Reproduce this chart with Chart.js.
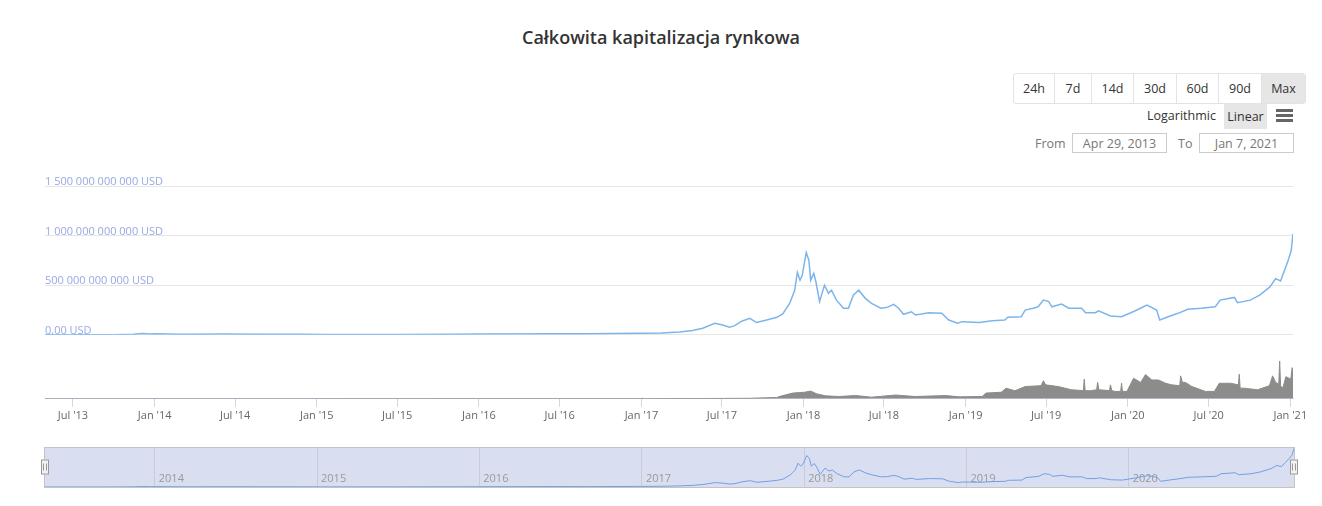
<!DOCTYPE html>
<html lang="pl">
<head>
  <meta charset="UTF-8">
  <title>Całkowita kapitalizacja rynkowa</title>
  <script src="https://cdn.jsdelivr.net/npm/chart.js"></script>
  <style>
    body { margin: 0; background: #fff; font-family: 'Open Sans', sans-serif; }
    #wrap { position: relative; width: 1322px; height: 506px; overflow: hidden; }
    #title { position: absolute; top: 25px; left: 0; width: 1322px; text-align: center;
      font-size: 18px; font-weight: 600; color: #333; }
    #ranges { position: absolute; left: 1013px; top: 73px; height: 29px; display: flex;
      border: 1px solid #e3e3e3; border-radius: 3px; overflow: hidden; }
    #ranges div { height: 29px; line-height: 29px; text-align: center; font-size: 12.5px; color: #333;
      border-left: 1px solid #e3e3e3; box-sizing: border-box; }
    #ranges div:first-child { border-left: none; }
    #ranges div.on { background: #e6e6e6; }
    .lbl { position: absolute; font-size: 12.5px; color: #333; }
    #linear { position: absolute; left: 1224px; top: 104px; width: 43px; height: 25px; line-height: 25px;
      background: #e6e6e6; text-align: center; font-size: 12.5px; color: #333; }
    .bar { position: absolute; left: 1276px; width: 17px; height: 3px; background: #666; }
    .gray { color: #777; }
    .box { position: absolute; height: 20px; line-height: 20px; border: 1px solid #ccc; text-align: center;
      font-size: 12.5px; color: #777; box-sizing: border-box; }
    canvas { position: absolute; left: 0; }
  </style>
</head>
<body>
<div id="wrap">
  <div id="title">Całkowita kapitalizacja rynkowa</div>
  <div id="ranges">
    <div style="width:40px">24h</div><div style="width:37px">7d</div><div style="width:42px">14d</div>
    <div style="width:43px">30d</div><div style="width:42px">60d</div><div style="width:43px">90d</div>
    <div style="width:44px" class="on">Max</div>
  </div>
  <div class="lbl" style="left:1147px; top:107px;">Logarithmic</div>
  <div id="linear">Linear</div>
  <div class="bar" style="top:109px"></div><div class="bar" style="top:114px"></div><div class="bar" style="top:119px"></div>
  <div class="lbl gray" style="left:1035px; top:135px;">From</div>
  <div class="box" style="left:1072px; top:133px; width:95px;">Apr 29, 2013</div>
  <div class="lbl gray" style="left:1178px; top:135px;">To</div>
  <div class="box" style="left:1199px; top:133px; width:95px;">Jan 7, 2021</div>
  <canvas id="main" width="1322" height="260" style="top:170px"></canvas>
  <canvas id="nav" width="1322" height="60" style="top:440px"></canvas>
</div>
<script>
// total market cap, billions USD
const capDates = ['2013-04-29','2013-07-01','2013-10-01','2013-11-15','2013-12-04','2013-12-20','2014-01-05',
  '2014-02-25','2014-04-01','2014-06-01','2014-09-01','2014-12-01','2015-01-15','2015-04-01','2015-07-01',
  '2015-11-05','2016-01-01','2016-06-18','2016-09-01','2016-12-31','2017-02-15','2017-03-28','2017-04-26',
  '2017-05-19','2017-06-15','2017-07-03','2017-07-18','2017-07-29','2017-08-16','2017-09-02','2017-09-17',
  '2017-10-10','2017-11-02','2017-11-15','2017-12-01','2017-12-12','2017-12-18','2017-12-24','2017-12-29',
  '2018-01-07','2018-01-13','2018-01-17','2018-01-24','2018-01-29','2018-02-06','2018-02-17','2018-02-26',
  '2018-03-05','2018-03-16','2018-04-01','2018-04-12','2018-04-23','2018-05-05','2018-05-20','2018-06-03',
  '2018-06-24','2018-07-07','2018-07-23','2018-08-03','2018-08-14','2018-09-01','2018-09-10','2018-10-10',
  '2018-11-08','2018-11-24','2018-12-14','2018-12-24','2019-02-01','2019-03-02','2019-03-30','2019-04-06',
  '2019-05-06','2019-05-15','2019-06-02','2019-06-13','2019-06-25','2019-07-07','2019-07-14','2019-08-05',
  '2019-08-21','2019-09-19','2019-09-28','2019-10-20','2019-10-27','2019-11-23','2019-12-18','2020-01-18',
  '2020-02-13','2020-03-06','2020-03-13','2020-04-01','2020-04-23','2020-05-15','2020-06-14','2020-07-16',
  '2020-07-27','2020-08-28','2020-09-04','2020-10-03','2020-10-24','2020-11-16','2020-11-29','2020-12-10',
  '2020-12-19','2020-12-27','2021-01-03','2021-01-07'];
const capValues = [1.6, 1.2, 1.7, 5, 14, 8, 11,
  7, 6, 8.5, 6.5, 5, 3.5, 4, 4.5,
  6.5, 7.5, 12, 10, 16, 19, 30, 43,
  67, 117, 100, 77, 90, 140, 167, 124,
  150, 177, 210, 320, 450, 630, 550, 600,
  830, 750, 550, 620, 530, 335, 500, 420,
  450, 350, 268, 268, 400, 450, 368, 318,
  268, 275, 307, 268, 207, 233, 200, 223,
  217, 150, 117, 133, 124, 143, 150, 177,
  183, 250, 268, 283, 350, 335, 283, 310,
  268, 268, 223, 223, 243, 190, 183, 243,
  300, 250, 150, 183, 217, 257, 268, 283,
  350, 377, 324, 350, 400, 483, 567, 543,
  650, 750, 850, 1020];

// total volume, billions USD
const volDates = ['2013-04-29','2014-12-31','2015-01-05','2016-12-31','2017-01-04','2017-01-08','2017-06-01',
  '2017-09-01','2017-11-01','2017-11-13','2017-12-08','2017-12-23','2018-01-03','2018-01-17','2018-01-31',
  '2018-02-20','2018-03-21','2018-04-28','2018-06-03','2018-07-27','2018-09-10','2018-11-17','2018-12-17',
  '2019-02-07','2019-02-16','2019-03-22','2019-04-02','2019-04-22','2019-05-15','2019-06-20','2019-06-25',
  '2019-06-30','2019-07-28','2019-08-27','2019-09-23','2019-09-25','2019-09-27','2019-10-08','2019-10-23',
  '2019-10-25','2019-10-28','2019-11-21','2019-11-23','2019-11-26','2019-12-03','2019-12-16','2019-12-18',
  '2019-12-20','2019-12-30','2020-01-14','2020-01-30','2020-02-10','2020-02-24','2020-03-10','2020-03-26',
  '2020-04-09','2020-04-27','2020-04-29','2020-05-03','2020-05-10','2020-05-24','2020-06-24','2020-07-14',
  '2020-07-25','2020-08-19','2020-09-06','2020-09-08','2020-09-10','2020-09-19','2020-10-19','2020-11-15',
  '2020-11-22','2020-11-29','2020-12-06','2020-12-08','2020-12-10','2020-12-15','2020-12-22','2021-01-02',
  '2021-01-05','2021-01-07'];
const volValues = [0.1, 0.2, 0.5, 0.8, 3, 0.8, 2,
  3, 8, 18, 35, 38, 40, 47, 30,
  18, 14, 20, 10, 23, 14, 20, 12,
  14, 35, 40, 65, 49, 75, 80, 110,
  85, 75, 55, 50, 120, 50, 49, 55,
  100, 55, 50, 85, 50, 45, 45, 95,
  45, 45, 125, 100, 148, 115, 115, 95,
  85, 80, 140, 100, 100, 75, 45, 45,
  95, 95, 85, 150, 65, 65, 55, 80,
  140, 100, 90, 230, 80, 65, 135, 120,
  190, 170];

const yTickValues = [0, 500, 1000, 1500];
const xTickDates = ['2013-07-01','2014-01-01','2014-07-01','2015-01-01','2015-07-01','2016-01-01','2016-07-01',
  '2017-01-01','2017-07-01','2018-01-01','2018-07-01','2019-01-01','2019-07-01','2020-01-01','2020-07-01','2021-01-01'];
const xTickLabels = ["Jul '13","Jan '14","Jul '14","Jan '15","Jul '15","Jan '16","Jul '16",
  "Jan '17","Jul '17","Jan '18","Jul '18","Jan '19","Jul '19","Jan '20","Jul '20","Jan '21"];
const navYears = ['2014','2015','2016','2017','2018','2019','2020'];

const toTs = s => Date.parse(s + 'T00:00:00Z');
const xMin = toTs('2013-04-29'), xMax = toTs('2021-01-07');
const capData = capDates.map((d, i) => ({ x: toTs(d), y: capValues[i] * 1e9 }));
const volData = volDates.map((d, i) => ({ x: toTs(d), y: volValues[i] * 1e9 }));

Chart.defaults.font.family = "'Open Sans', sans-serif";

const fmtUsd = v => v === 0 ? '0,00 USD'
  : String(Math.round(v)).replace(/\B(?=(\d{3})+(?!\d))/g, ' ') + ' USD';

new Chart(document.getElementById('main'), {
  type: 'line',
  data: {
    datasets: [
      { data: capData, yAxisID: 'y', borderColor: '#7cb5ec', borderWidth: 1.5, pointRadius: 0, tension: 0, fill: false },
      { data: volData, yAxisID: 'yv', borderColor: '#8c8c8c', backgroundColor: '#8c8c8c', borderWidth: 1,
        pointRadius: 0, tension: 0, fill: 'origin' }
    ]
  },
  options: {
    responsive: false,
    animation: false,
    plugins: { legend: { display: false }, tooltip: { enabled: false } },
    layout: { padding: { left: 37, right: 29, top: 16, bottom: 6 } },
    scales: {
      x: {
        type: 'linear', min: xMin, max: xMax,
        afterBuildTicks: s => { s.ticks = xTickDates.map(d => ({ value: toTs(d) })); },
        ticks: { callback: (v, i) => xTickLabels[i], color: '#666', font: { size: 11 },
          maxRotation: 0, autoSkip: false, padding: 2 },
        grid: { drawOnChartArea: false, drawTicks: true, tickLength: 8, color: '#ccd6eb' },
        border: { color: '#ccd6eb' }
      },
      yv: {
        stack: 'panes', stackWeight: 64, position: 'left', min: 0, max: 390e9,
        ticks: { display: false }, grid: { display: false }, border: { display: false }
      },
      y: {
        stack: 'panes', stackWeight: 149, position: 'left', min: 0, max: 1.5e12,
        afterBuildTicks: s => { s.ticks = yTickValues.map(v => ({ value: v * 1e9 })); },
        ticks: { mirror: true, padding: 0, labelOffset: -4, color: '#97a9e2', font: { size: 11 }, callback: fmtUsd },
        grid: { color: '#e6e6e6', drawTicks: false },
        border: { display: false }
      }
    }
  }
});

const navDecor = {
  id: 'navDecor',
  beforeDraw(chart) {
    const { ctx, chartArea: a } = chart;
    ctx.save();
    ctx.fillStyle = '#d9dff0';
    ctx.fillRect(a.left, a.top, a.right - a.left, a.bottom - a.top);
    ctx.restore();
  },
  afterDraw(chart) {
    const { ctx, chartArea: a } = chart;
    ctx.save();
    ctx.strokeStyle = '#c4c4c4';
    ctx.lineWidth = 1;
    ctx.strokeRect(a.left - 0.5, a.top - 0.5, a.right - a.left + 1, a.bottom - a.top + 1);
    const mid = (a.top + a.bottom) / 2;
    [a.left, a.right].forEach(x => {
      ctx.fillStyle = '#f2f2f2';
      ctx.strokeStyle = '#999';
      ctx.fillRect(x - 4, mid - 8, 8, 15);
      ctx.strokeRect(x - 3.5, mid - 7.5, 7, 14);
      ctx.beginPath();
      ctx.moveTo(x - 1.5, mid - 4); ctx.lineTo(x - 1.5, mid + 3);
      ctx.moveTo(x + 1.5, mid - 4); ctx.lineTo(x + 1.5, mid + 3);
      ctx.stroke();
    });
    ctx.restore();
  }
};

new Chart(document.getElementById('nav'), {
  type: 'line',
  data: { datasets: [{ data: capData, borderColor: '#73a0e2', borderWidth: 1, pointRadius: 0, tension: 0, fill: false }] },
  options: {
    responsive: false,
    animation: false,
    plugins: { legend: { display: false }, tooltip: { enabled: false } },
    layout: { padding: { left: 45, right: 28, top: 8, bottom: 13 } },
    scales: {
      x: {
        type: 'linear', min: xMin, max: xMax,
        afterBuildTicks: s => { s.ticks = navYears.map(y => ({ value: toTs(y + '-01-01') })); },
        ticks: { callback: (v, i) => navYears[i], align: 'start', padding: -15, labelOffset: 4,
          color: '#999', font: { size: 11 }, maxRotation: 0, autoSkip: false },
        grid: { color: '#c8ccd6', drawTicks: false },
        border: { display: false }
      },
      y: { display: false, min: 0, max: 1.03e12 }
    }
  },
  plugins: [navDecor]
});
</script>
</body>
</html>
